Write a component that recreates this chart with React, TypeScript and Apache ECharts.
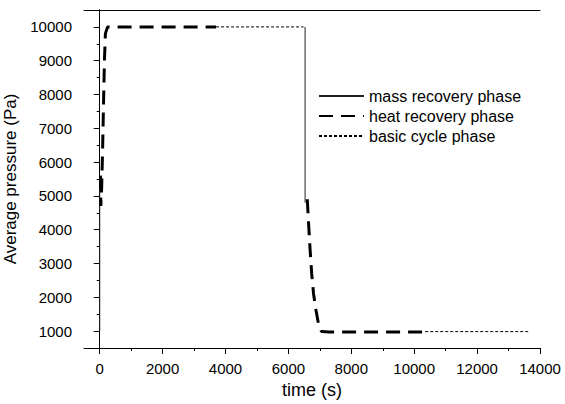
import React, { useEffect, useRef } from "react";
import * as echarts from "echarts";

const xMajorTicks = [0, 2000, 4000, 6000, 8000, 10000, 12000, 14000];
const xMinorTicks = [1000, 3000, 5000, 7000, 9000, 11000, 13000];
const yMajorTicks = [1000, 2000, 3000, 4000, 5000, 6000, 7000, 8000, 9000, 10000];
const yMinorTicks = [500, 1500, 2500, 3500, 4500, 5500, 6500, 7500, 8500, 9500, 10500];

// [time (s), pressure (Pa)]
const massRecovery1 = [[0, 1000], [0, 5500]];
const massRecovery2 = [[6530, 10000], [6530, 4800]];
const heatRecovery1 = [
  [25, 5600], [35, 4700], [60, 5200], [90, 6300], [120, 7700], [150, 9000],
  [180, 9800], [250, 10000], [3700, 10000],
];
const heatRecovery2 = [
  [6600, 4900], [6640, 4200], [6690, 3400], [6740, 2700], [6800, 2100],
  [6880, 1600], [6960, 1200], [7050, 990], [7300, 970], [10350, 970],
];
const basicCycle1 = [[3700, 10000], [6480, 10000]];
const basicCycle2 = [[10350, 985], [13630, 985]];

const FONT = "Liberation Sans, Arial, sans-serif";

export default function App() {
  const ref = useRef<HTMLDivElement>(null);
  useEffect(() => {
    document.body.style.margin = "0";
    if (!ref.current) return;
    const chart = echarts.init(ref.current, undefined, { renderer: "svg" });
    const lineAxis = { show: true, lineStyle: { color: "#000", width: 1 } };
    const solid = { color: "#222", width: 1, type: "solid" as const };
    const dashed = { color: "#000", width: 3, type: [14, 8] as any };
    const dotted = { color: "#000", width: 1, type: [3, 2] as any };
    const fmt = (v: number) => String(v);
    const mk = (name: string, data: number[][], ls: any) => ({
      type: "line",
      name,
      data,
      showSymbol: false,
      symbol: "none",
      lineStyle: ls,
      itemStyle: { color: "#000" },
      xAxisIndex: 0,
      yAxisIndex: 0,
    });
    chart.setOption({
      animation: false,
      backgroundColor: "#fff",
      textStyle: { fontFamily: FONT },
      grid: { left: 84, right: 25, top: 10, bottom: 56, containLabel: false, outerBoundsMode: "none" },
      legend: {
        orient: "vertical",
        left: 313,
        top: 83,
        itemWidth: 45,
        itemHeight: 14,
        itemGap: 4,
        itemStyle: { opacity: 0 },
        textStyle: { fontSize: 16, color: "#000", fontFamily: FONT },
        data: ["mass recovery phase", "heat recovery phase", "basic cycle phase"],
      },
      xAxis: [
        {
          type: "value",
          position: "bottom",
          min: -500,
          max: 14000,
          name: "time (s)",
          nameLocation: "middle",
          nameGap: 31,
          nameTextStyle: { fontSize: 18, color: "#000", fontFamily: FONT },
          axisLine: lineAxis,
          axisTick: { show: true, customValues: xMajorTicks, length: 6, lineStyle: { color: "#000" } },
          axisLabel: { customValues: xMajorTicks, formatter: fmt, fontSize: 15, color: "#000", margin: 13, fontFamily: FONT },
          splitLine: { show: false },
        },
        {
          type: "value",
          position: "bottom",
          min: -500,
          max: 14000,
          axisLine: { show: false },
          axisTick: { show: true, customValues: xMinorTicks, length: 3, lineStyle: { color: "#000" } },
          axisLabel: { show: false },
          splitLine: { show: false },
        },
        {
          type: "value",
          position: "top",
          min: -500,
          max: 14000,
          axisLine: lineAxis,
          axisTick: { show: false },
          axisLabel: { show: false },
          splitLine: { show: false },
        },
      ],
      yAxis: [
        {
          type: "value",
          position: "left",
          min: 500,
          max: 10500,
          name: "Average pressure (Pa)",
          nameLocation: "middle",
          nameGap: 58,
          nameTextStyle: { fontSize: 17, color: "#000", fontFamily: FONT },
          axisLine: lineAxis,
          axisTick: { show: true, customValues: yMajorTicks, length: 6, lineStyle: { color: "#000" } },
          axisLabel: { customValues: yMajorTicks, formatter: fmt, fontSize: 15, color: "#000", margin: 12, fontFamily: FONT },
          splitLine: { show: false },
        },
        {
          type: "value",
          position: "left",
          min: 500,
          max: 10500,
          axisLine: { show: false },
          axisTick: { show: true, customValues: yMinorTicks, length: 3, lineStyle: { color: "#000" } },
          axisLabel: { show: false },
          splitLine: { show: false },
        },
        {
          type: "value",
          position: "right",
          min: 500,
          max: 10500,
          axisLine: lineAxis,
          axisTick: { show: false },
          axisLabel: { show: false },
          splitLine: { show: false },
        },
      ],
      series: [
        mk("mass recovery phase", massRecovery1, solid),
        mk("mass recovery phase", massRecovery2, solid),
        mk("basic cycle phase", basicCycle1, dotted),
        mk("basic cycle phase", basicCycle2, dotted),
        mk("heat recovery phase", heatRecovery1, dashed),
        mk("heat recovery phase", heatRecovery2, dashed),
      ],
    });
    return () => chart.dispose();
  }, []);
  return <div ref={ref} style={{ width: 565, height: 404 }} />;
}
